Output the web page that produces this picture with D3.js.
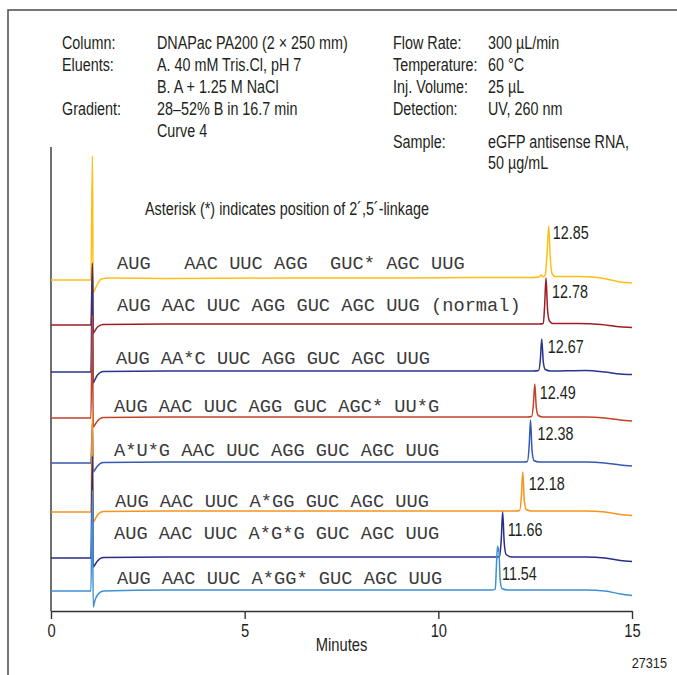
<!DOCTYPE html>
<html>
<head>
<meta charset="utf-8">
<script src="https://cdn.jsdelivr.net/npm/d3@7"></script>
<style>
  html, body { margin: 0; padding: 0; background: #fff; }
  svg { display: block; }
</style>
</head>
<body>
<svg id="chart" width="677" height="675"></svg>
<script>
// ---------------- DATA ----------------
const xTicks = [0, 5, 10, 15];
const xLabel = "Minutes";
const figureId = "27315";

const retentionTimes = [12.85, 12.78, 12.67, 12.49, 12.38, 12.18, 11.66, 11.54];
const peakLabels = ["12.85", "12.78", "12.67", "12.49", "12.38", "12.18", "11.66", "11.54"];

const sequences = [
  "AUG   AAC UUC AGG  GUC* AGC UUG",
  "AUG AAC UUC AGG GUC AGC UUG (normal)",
  "AUG AA*C UUC AGG GUC AGC UUG",
  "AUG AAC UUC AGG GUC AGC* UU*G",
  "A*U*G AAC UUC AGG GUC AGC UUG",
  "AUG AAC UUC A*GG GUC AGC UUG",
  "AUG AAC UUC A*G*G GUC AGC UUG",
  "AUG AAC UUC A*GG* GUC AGC UUG"
];

// vertical display offsets of the stacked chromatograms (signal units)
const traceOffsets = [331, 286, 239, 193, 148, 99, 53, 20];

// chromatogram points: [minutes, signal above own baseline]
const trace1285 = [[0,0],[1.03,0],[1.07,124],[1.09,-13],[1.13,-10],[1.2,-4],[1.3,1],[1.5,2],[3,1.5],[6,2],[9,2],[11,2.5],[12.4,2.5],[12.6,3],[12.66,5],[12.71,3],[12.76,5],[12.81,28],[12.85,54],[12.89,22],[12.94,6],[13.02,3.5],[13.6,3.5],[14.1,2.5],[14.4,0.5],[14.7,-2],[15,-3]];
const trace1278 = [[0,0],[1.03,0],[1.07,62],[1.09,-8],[1.13,-6],[1.2,-2],[1.35,0.5],[3,1],[8,1],[12.6,1],[12.71,1.5],[12.745,20],[12.78,47],[12.82,15],[12.87,4],[12.96,1.5],[13.6,1.5],[14.2,0.5],[14.6,-1.5],[15,-2.5]];
const trace1267 = [[0,0],[1.03,0],[1.07,106],[1.09,-11],[1.13,-8],[1.2,-3],[1.35,0.5],[3,1],[8,1],[12.45,1],[12.59,1.5],[12.635,13],[12.67,33],[12.71,10],[12.76,2.5],[12.9,1],[13.8,1.5],[14.3,0],[14.7,-2],[15,-2.5]];
const trace1249 = [[0,0],[1.03,0],[1.07,103],[1.09,-9],[1.13,-7],[1.2,-3],[1.35,0.5],[3,1],[8,1],[12.3,1],[12.41,1.5],[12.455,14],[12.49,34],[12.53,10],[12.58,2.5],[12.7,1],[13.8,1],[14.3,0],[14.7,-2],[15,-3]];
const trace1238 = [[0,0],[1.03,0],[1.07,40],[1.09,-9],[1.13,-7],[1.2,-3],[1.35,0.5],[3,1],[8,1],[12.2,1],[12.3,1.5],[12.345,17],[12.38,43],[12.42,12],[12.47,2.5],[12.6,1],[13.8,1],[14.3,0],[14.7,-2],[15,-3]];
const trace1218 = [[0,0],[1.03,0],[1.07,100],[1.09,-10],[1.13,-8],[1.2,-3],[1.35,0.5],[3,1],[8,1],[12.0,1],[12.1,1.5],[12.145,16],[12.18,40],[12.22,11],[12.27,2.5],[12.4,1],[13.8,1],[14.3,0],[14.7,-2.5],[15,-3.5]];
const trace1166 = [[0,0],[1.03,0],[1.07,102],[1.09,-9],[1.13,-7],[1.2,-3],[1.35,0.5],[3,1],[8,1],[11.5,1],[11.58,1.5],[11.625,19],[11.66,46],[11.70,16],[11.75,3.5],[11.9,1],[13.8,1],[14.3,0],[14.7,-2.5],[15,-3.5]];
const trace1154 = [[0,0],[1.03,0],[1.07,101],[1.09,-16],[1.13,-10],[1.2,-4],[1.35,0],[3,1],[8,1],[11.4,1],[11.47,2],[11.505,30],[11.53,45],[11.545,40],[11.56,43],[11.595,12],[11.64,2.5],[11.8,1],[13.8,1],[14.3,0],[14.7,-3],[15,-4.5]];

const traces = [trace1285, trace1278, trace1267, trace1249, trace1238, trace1218, trace1166, trace1154];

const headerLeft = [
  ["Column:", "DNAPac PA200 (2 \u00d7 250 mm)"],
  ["Eluents:", "A. 40 mM Tris.Cl, pH 7"],
  ["", "B. A + 1.25 M NaCl"],
  ["Gradient:", "28\u201352% B in 16.7 min"],
  ["", "Curve 4"]
];
const headerRight = [
  ["Flow Rate:", "300 \u00b5L/min"],
  ["Temperature:", "60 \u00b0C"],
  ["Inj. Volume:", "25 \u00b5L"],
  ["Detection:", "UV, 260 nm"],
  ["Sample:", "eGFP antisense RNA,"],
  ["", "50 \u00b5g/mL"]
];
const note = "Asterisk (*) indicates position of 2\u00b4,5\u00b4-linkage";

// ---------------- STYLE / LAYOUT ----------------
const traceColors = ["#fdbf16", "#9c1d24", "#27358e", "#c0432a", "#3558b0", "#f7941d", "#2a2d86", "#3f8fd5"];
const peakLabelDx = [4, 6, 6, 5, 7, 6, 5, 4];
const peakLabelDy = [-41, -27, -19, -19, -23, -22, -22, -11]; // px relative to trace baseline
const seqX = [117, 117, 116, 114, 114, 115, 114, 117];
const seqDy = [-11, -14, -8, -6, -7, -5, -19, -7];
const headerLeftY = [49, 71, 93, 115, 137];
const headerRightY = [49, 71, 93, 115, 147.5, 168.5];

const SANS = "'Liberation Sans', Arial, sans-serif";
const NARROW = 0.82;
const TEXT = "#231f20";

const svg = d3.select("#chart");

// frame (top and left)
svg.append("path")
  .attr("d", "M8,675 L8,10 L677,10")
  .attr("fill", "none").attr("stroke", "#4a4a4a").attr("stroke-width", 1.5);

const x = d3.scaleLinear().domain([0, 15]).range([51, 632]);
const y = d3.scaleLinear().domain([0, 464]).range([611, 147]);

function narrowText(parent, px, py, str, size, anchor, color) {
  const g = parent.append("g").attr("transform", `translate(${px},${py}) scale(${NARROW},1)`);
  g.append("text")
    .attr("x", 0).attr("y", 0)
    .attr("text-anchor", anchor || "start")
    .attr("font-family", SANS)
    .attr("font-size", size)
    .attr("fill", color || TEXT)
    .text(str);
  return g;
}

// header
headerLeft.forEach((row, i) => {
  if (row[0]) narrowText(svg, 62, headerLeftY[i], row[0], 17.5);
  narrowText(svg, 157, headerLeftY[i], row[1], 17.5);
});
headerRight.forEach((row, i) => {
  if (row[0]) narrowText(svg, 393, headerRightY[i], row[0], 17.5);
  narrowText(svg, 488, headerRightY[i], row[1], 17.5);
});
narrowText(svg, 145, 215, note, 17.5);

// left vertical line
svg.append("line")
  .attr("x1", x(0)).attr("x2", x(0))
  .attr("y1", y(464)).attr("y2", y(0))
  .attr("stroke", "#333").attr("stroke-width", 1.4);

// x axis
const axisG = svg.append("g")
  .attr("transform", `translate(0,${y(0)})`)
  .call(d3.axisBottom(x).tickValues(xTicks).tickSize(8).tickSizeOuter(0).tickPadding(5).tickFormat(d3.format("d")));
axisG.select(".domain").attr("stroke", "#333").attr("stroke-width", 1.4);
axisG.selectAll(".tick line").attr("stroke", "#333").attr("stroke-width", 1.4);
axisG.selectAll(".tick text")
  .attr("font-family", SANS).attr("font-size", 18).attr("fill", TEXT)
  .attr("transform", `scale(${NARROW},1)`);

narrowText(svg, (x(0) + x(15)) / 2, 651, xLabel, 18, "middle");
narrowText(svg, 667, 668, figureId, 15.5, "end");

// traces
const line = d3.line().curve(d3.curveMonotoneX);
traces.forEach((tr, i) => {
  const off = traceOffsets[i];
  svg.append("path")
    .attr("d", line(tr.map(p => [x(p[0]), y(off + p[1])])))
    .attr("fill", "none")
    .attr("stroke", traceColors[i])
    .attr("stroke-width", 1.5)
    .attr("stroke-linejoin", "round");
});

// sequence labels
sequences.forEach((s, i) => {
  svg.append("text")
    .attr("x", seqX[i])
    .attr("y", y(traceOffsets[i]) + seqDy[i])
    .attr("font-family", "'Liberation Mono', 'Courier New', monospace")
    .attr("font-size", 18.7)
    .attr("fill", "#3a3a3a")
    .style("white-space", "pre")
    .text(s);
});

// peak labels
retentionTimes.forEach((t, i) => {
  narrowText(svg, x(t) + peakLabelDx[i], y(traceOffsets[i]) + peakLabelDy[i], peakLabels[i], 17.5);
});
</script>
</body>
</html>
